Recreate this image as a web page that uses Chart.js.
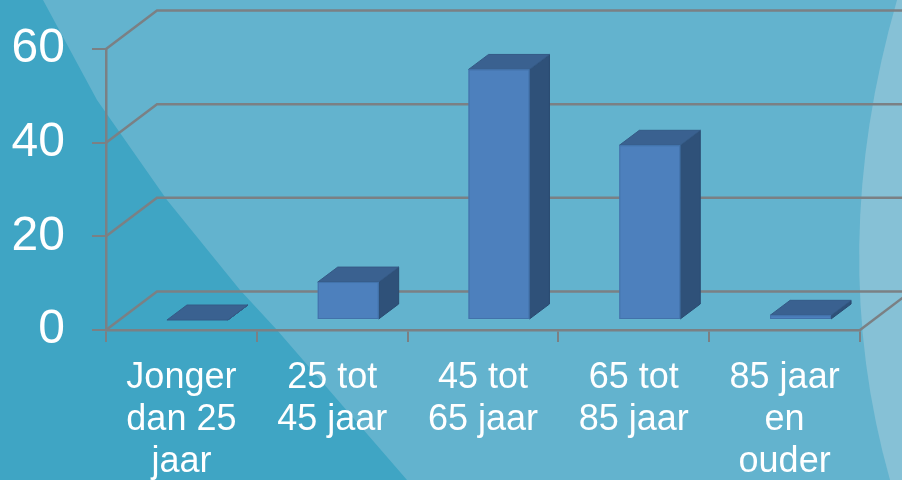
<!DOCTYPE html>
<html>
<head>
<meta charset="utf-8">
<script src="https://cdn.jsdelivr.net/npm/chart.js@4"></script>
<style>
  body { margin: 0; background: #63b3ce; }
  #wrap { width: 902px; height: 480px; position: relative; }
</style>
</head>
<body>
<div id="wrap"><canvas id="ageChart"></canvas></div>
<script>
const categories = [
  ['Jonger', 'dan 25', 'jaar'],
  ['25 tot', '45 jaar'],
  ['45 tot', '65 jaar'],
  ['65 tot', '85 jaar'],
  ['85 jaar', 'en', 'ouder']
];
const values = [0, 8.1, 53.5, 37.3, 1];
const yTicks = [0, 20, 40, 60];

const gridcolor = '#7b8084';
const depthX = 51, depthY = -38.5;   // back wall offset
const barShiftX = 16, barShiftY = -10; // bar plane offset
const barDepthX = 20, barDepthY = -15;

const background = {
  id: 'background',
  beforeDraw(chart) {
    const c = chart.ctx;
    c.save();
    c.fillStyle = '#63b3ce';
    c.fillRect(0, 0, chart.width, chart.height);
    // darker diagonal band on the left
    c.fillStyle = '#3fa5c4';
    c.beginPath();
    c.moveTo(0, 0);
    c.lineTo(43, 0);
    c.lineTo(97, 100);
    c.lineTo(167, 200);
    c.lineTo(240, 290);
    c.lineTo(277, 330);
    c.lineTo(407, 480);
    c.lineTo(0, 480);
    c.closePath();
    c.fill();
    // light arc on the right
    c.fillStyle = '#86c1d6';
    c.beginPath();
    c.moveTo(897, 0);
    c.quadraticCurveTo(825, 250, 890, 480);
    c.lineTo(902, 480);
    c.lineTo(902, 0);
    c.closePath();
    c.fill();
    c.restore();
  }
};

const grid3d = {
  id: 'grid3d',
  beforeDatasetsDraw(chart) {
    const c = chart.ctx;
    const area = chart.chartArea;
    const ys = chart.scales.y;
    c.save();
    c.strokeStyle = gridcolor;
    c.lineWidth = 2.5;
    yTicks.forEach(t => {
      const py = ys.getPixelForValue(t);
      c.beginPath();
      c.moveTo(area.left, py);
      c.lineTo(area.left + depthX, py + depthY);
      c.lineTo(chart.width + 5, py + depthY);
      c.stroke();
    });
    // right edge of the floor
    const floor = ys.getPixelForValue(0);
    c.beginPath();
    c.moveTo(area.right, floor);
    c.lineTo(area.right + depthX, floor + depthY);
    c.stroke();
    c.restore();
  }
};

const bars3d = {
  id: 'bars3d',
  afterDatasetsDraw(chart) {
    const c = chart.ctx;
    const meta = chart.getDatasetMeta(0);
    c.save();
    c.lineWidth = 1;
    meta.data.forEach(bar => {
      const p = bar.getProps(['x', 'y', 'base', 'width'], true);
      const l = p.x - p.width / 2 + barShiftX;
      const r = p.x + p.width / 2 + barShiftX;
      const t = p.y + barShiftY;
      const b = p.base + barShiftY;

      // side
      c.fillStyle = '#2f5179';
      c.strokeStyle = '#2a4a70';
      c.beginPath();
      c.moveTo(r, t);
      c.lineTo(r + barDepthX, t + barDepthY);
      c.lineTo(r + barDepthX, b + barDepthY);
      c.lineTo(r, b);
      c.closePath();
      c.fill();
      c.stroke();

      // top
      c.fillStyle = '#3a6190';
      c.strokeStyle = '#355a86';
      c.beginPath();
      c.moveTo(l, t);
      c.lineTo(r, t);
      c.lineTo(r + barDepthX, t + barDepthY);
      c.lineTo(l + barDepthX, t + barDepthY);
      c.closePath();
      c.fill();
      c.stroke();

      // front
      if (b - t > 0.5) {
        c.fillStyle = '#4d80bd';
        c.strokeStyle = '#4272aa';
        c.fillRect(l, t, r - l, b - t);
        c.strokeRect(l + 0.5, t + 0.5, r - l - 1, b - t - 1);
      }
    });
    c.restore();
  }
};

const ctx = document.getElementById('ageChart');

new Chart(ctx, {
  type: 'bar',
  data: {
    labels: categories,
    datasets: [{
      data: values,
      backgroundColor: 'rgba(0,0,0,0)',
      borderWidth: 0,
      barPercentage: 0.404,
      categoryPercentage: 1
    }]
  },
  options: {
    responsive: true,
    maintainAspectRatio: false,
    animation: false,
    layout: {
      padding: { top: 49, right: 42, left: 0, bottom: 0 }
    },
    plugins: {
      legend: { display: false },
      tooltip: { enabled: false }
    },
    scales: {
      x: {
        afterFit(scale) { scale.height = 150; },
        border: { display: true, color: gridcolor, width: 2.5 },
        grid: {
          drawOnChartArea: false,
          drawTicks: true,
          tickLength: 12,
          color: gridcolor,
          lineWidth: 2
        },
        ticks: {
          color: '#ffffff',
          padding: 15,
          maxRotation: 0,
          autoSkip: false,
          font: { family: "'Liberation Sans', Arial, sans-serif", size: 36, lineHeight: 1.17 }
        }
      },
      y: {
        min: 0,
        max: 60,
        afterFit(scale) { scale.width = 106; },
        border: { display: true, color: gridcolor, width: 2.5 },
        grid: {
          drawOnChartArea: false,
          drawTicks: true,
          tickLength: 14,
          color: gridcolor,
          lineWidth: 2
        },
        ticks: {
          stepSize: 20,
          color: '#ffffff',
          padding: 27,
          font: { family: "'Liberation Sans', Arial, sans-serif", size: 48, lineHeight: 0.8 }
        }
      }
    }
  },
  plugins: [background, grid3d, bars3d]
});
</script>
</body>
</html>
